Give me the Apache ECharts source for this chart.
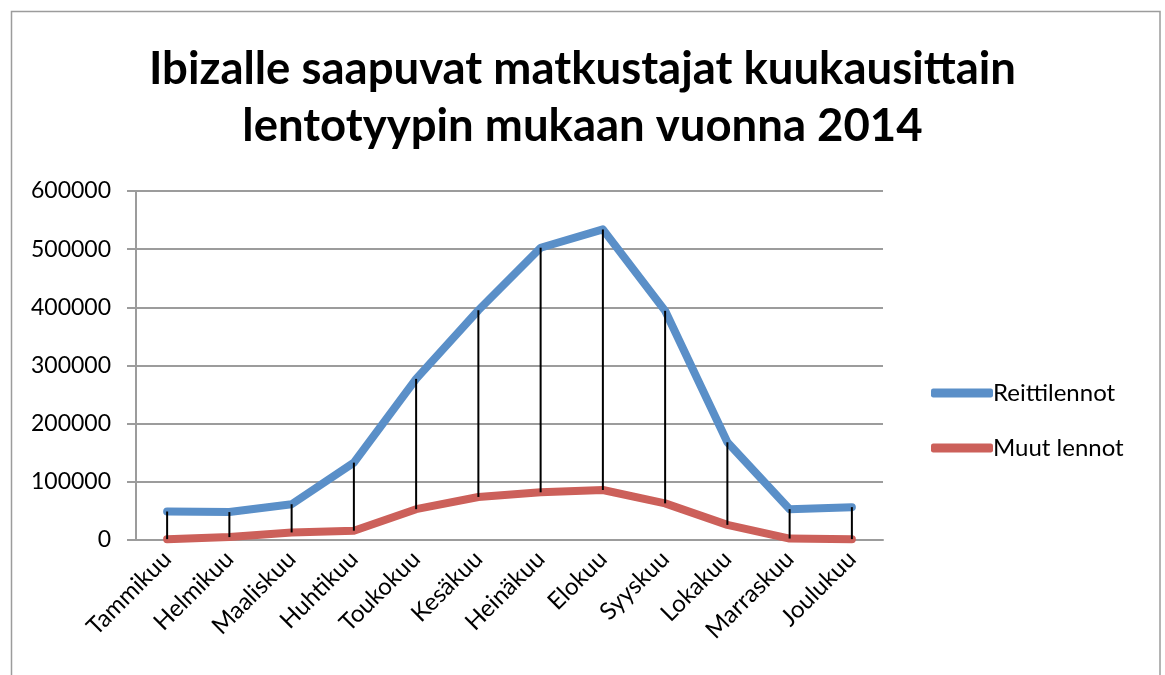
<!DOCTYPE html>
<html><head><meta charset="utf-8">
<script src="https://cdn.jsdelivr.net/npm/echarts@6/dist/echarts.min.js"></script>
<style>html,body{margin:0;padding:0;background:#fff}#c{width:1165px;height:675px}</style>
</head><body><div id="c"></div>
<script>
const months = ['Tammikuu','Helmikuu','Maaliskuu','Huhtikuu','Toukokuu','Kesäkuu','Heinäkuu','Elokuu','Syyskuu','Lokakuu','Marraskuu','Joulukuu'];
const reittilennot = [49000, 48000, 61500, 133000, 277000, 395000, 502500, 534000, 394000, 168000, 53000, 56500];
const muutLennot = [1500, 5000, 13000, 16000, 53000, 74000, 82000, 86000, 63000, 26000, 2500, 1500];
const yTicks = [0, 100000, 200000, 300000, 400000, 500000, 600000];
const titleText = 'Ibizalle saapuvat matkustajat kuukausittain\nlentotyypin mukaan vuonna 2014';
const FONT = 'Lato';

const chart = echarts.init(document.getElementById('c'), null, {renderer: 'canvas'});
chart.setOption({
  animation: false,
  backgroundColor: '#fff',
  textStyle: {fontFamily: FONT},
  graphic: [{
    type: 'rect', silent: true, z: -1,
    shape: {x: 11.5, y: 11.5, width: 1148.5, height: 700},
    style: {fill: 'none', stroke: '#9c9c9c', lineWidth: 1.5}
  }],
  title: {
    text: titleText, left: 'center', top: 36,
    textStyle: {fontFamily: FONT, fontWeight: 'bold', fontSize: 45.5, lineHeight: 57, color: '#000'}
  },
  grid: {left: 136, right: 282, top: 191, bottom: 135},
  legend: {
    orient: 'vertical', left: 926, top: 376, itemGap: 31,
    icon: 'roundRect', itemWidth: 62, itemHeight: 9,
    textStyle: {fontFamily: FONT, fontSize: 24, color: '#000', padding: [0,0,0,-5]},
    data: ['Reittilennot', 'Muut lennot']
  },
  xAxis: {
    type: 'category', data: months, boundaryGap: true,
    axisLine: {lineStyle: {color: '#9c9c9c', width: 2}},
    axisTick: {show: false},
    axisLabel: {rotate: 45, fontSize: 24, color: '#000', fontFamily: FONT, margin: 15}
  },
  yAxis: {
    type: 'value', min: yTicks[0], max: yTicks[yTicks.length-1], interval: 100000,
    axisLine: {show: true, lineStyle: {color: '#9c9c9c', width: 2}},
    axisTick: {show: true, length: 9, lineStyle: {color: '#9c9c9c', width: 2}},
    splitLine: {lineStyle: {color: '#9c9c9c', width: 2}},
    axisLabel: {fontSize: 23, color: '#000', fontFamily: FONT, margin: 25, formatter: v => String(v)}
  },
  series: [
    {
      name: 'Reittilennot', type: 'line', data: reittilennot, showSymbol: false, symbol: 'none',
      color: '#5a8fc8',
      lineStyle: {width: 8, color: '#5a8fc8', cap: 'round', join: 'round'}, z: 3
    },
    {
      name: 'Muut lennot', type: 'line', data: muutLennot, showSymbol: false, symbol: 'none',
      color: '#cc605a',
      lineStyle: {width: 8, color: '#cc605a', cap: 'round', join: 'round'}, z: 2
    },
    {
      name: 'hilo', type: 'custom', z: 5,
      data: months.map((m, i) => [i, reittilennot[i], muutLennot[i]]),
      encode: {x: 0, y: [1, 2]},
      renderItem: function (params, api) {
        const a = api.coord([api.value(0), api.value(1)]);
        const b = api.coord([api.value(0), api.value(2)]);
        return {type: 'line', shape: {x1: a[0], y1: a[1], x2: b[0], y2: b[1]},
          style: {stroke: '#000', lineWidth: 2}};
      }
    }
  ]
});
</script></body></html>
